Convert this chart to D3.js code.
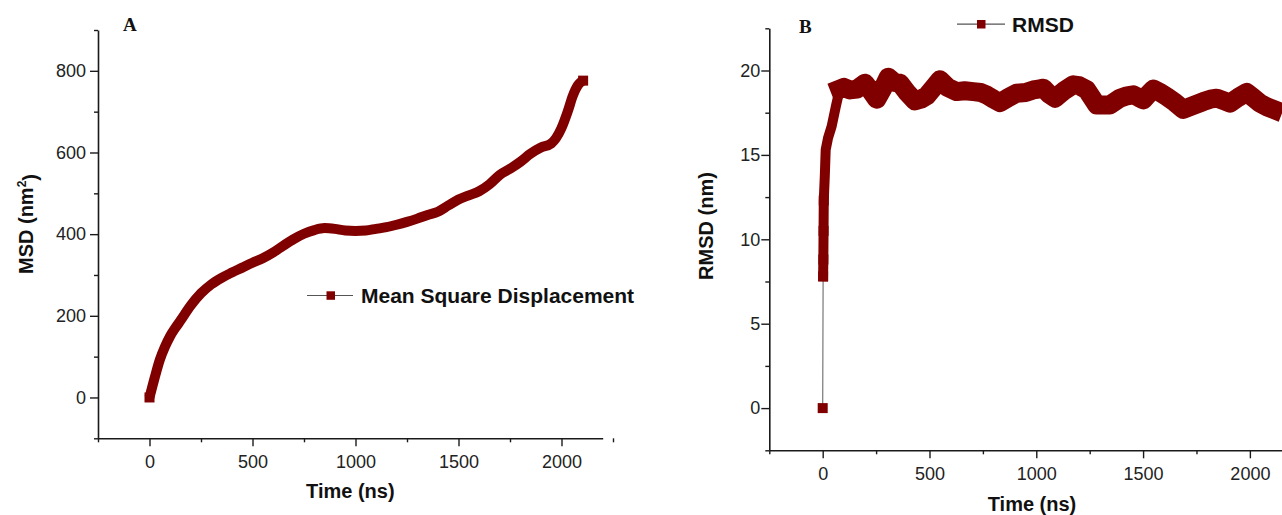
<!DOCTYPE html>
<html>
<head>
<meta charset="utf-8">
<script src="https://cdn.jsdelivr.net/npm/d3@7"></script>
<style>
  html, body { margin: 0; padding: 0; background: #fff; }
  svg { display: block; }
  text { font-family: "Liberation Sans", Arial, sans-serif; }
</style>
</head>
<body>
<svg id="chart" width="1282" height="515"></svg>
<script>
// ---------- Data ----------
// Panel A: Mean Square Displacement (nm^2) vs time (ns)
const msdTime = [0, 25, 50, 75, 100, 125, 150, 200, 250, 300, 350, 400, 450, 500, 550, 600, 650, 700, 750, 800, 850, 900, 950, 1000, 1050, 1100, 1150, 1200, 1250, 1300, 1350, 1400, 1450, 1500, 1550, 1600, 1650, 1700, 1750, 1800, 1850, 1900, 1950, 2000, 2030, 2055, 2080, 2095, 2105];
const msdValue = [0, 48, 92, 124, 150, 170, 188, 225, 255, 277, 293, 306, 318, 330, 341, 355, 372, 388, 401, 410, 415, 413, 409, 408, 409, 413, 417, 423, 430, 438, 447, 455, 470, 485, 495, 505, 522, 545, 560, 577, 597, 612, 622, 660, 700, 739, 765, 773, 776];

// Panel B: RMSD (nm) vs time (ns)
const rmsdTime = [0, 2, 3, 4, 5, 10, 14, 25, 42, 62, 80, 100, 128, 160, 198, 225, 253, 280, 307, 335, 362, 395, 432, 460, 487, 520, 549, 585, 627, 665, 705, 740, 768, 800, 830, 870, 908, 950, 986, 1010, 1033, 1060, 1088, 1130, 1173, 1200, 1236, 1260, 1283, 1315, 1345, 1392, 1425, 1454, 1480, 1501, 1525, 1548, 1580, 1610, 1650, 1688, 1730, 1782, 1815, 1845, 1880, 1907, 1945, 1985, 2015, 2047, 2080, 2110];
const rmsdValue = [0, 7.8, 8.8, 10.5, 12.3, 13.8, 15.3, 16.0, 16.7, 17.9, 18.9, 19.0, 18.85, 18.9, 19.25, 18.8, 18.3, 18.9, 19.6, 19.3, 19.25, 18.7, 18.2, 18.3, 18.5, 19.0, 19.45, 19.0, 18.75, 18.8, 18.75, 18.7, 18.55, 18.3, 18.1, 18.4, 18.65, 18.7, 18.85, 18.9, 18.95, 18.6, 18.36, 18.8, 19.15, 19.1, 18.86, 18.4, 17.96, 17.95, 17.96, 18.36, 18.5, 18.56, 18.4, 18.26, 18.6, 18.9, 18.7, 18.46, 18.1, 17.7, 17.9, 18.16, 18.3, 18.36, 18.2, 18.07, 18.4, 18.7, 18.4, 18.07, 17.85, 17.7];

// Ticks
const xMajorTicks = [0, 500, 1000, 1500, 2000];
const xMinorTicks = [-250, 250, 750, 1250, 1750, 2250];
const msdMajorTicks = [0, 200, 400, 600, 800];
const msdMinorTicks = [-100, 100, 300, 500, 700, 900];
const rmsdMajorTicks = [0, 5, 10, 15, 20];
const rmsdMinorTicks = [-2.5, 2.5, 7.5, 12.5, 17.5, 22.5];

// Labels
const panelLabels = ["A", "B"];
const xTitle = "Time (ns)";
const legendA = "Mean Square Displacement";
const legendB = "RMSD";

// ---------- Drawing ----------
const svg = d3.select("#chart");
const RED = "#800000";
const AXIS = "#1a1a1a";
const fmt = d3.format("d");

const msdData = msdTime.map((t, i) => ({ t, v: msdValue[i] }));
const rmsdData = rmsdTime.map((t, i) => ({ t, v: rmsdValue[i] }));

function drawAxes(g, x, y, xMaj, xMin, yMaj, yMin, yLabelPad) {
  const x0 = x.range()[0], y0 = y.range()[0];
  const xa = g.append("g").attr("transform", `translate(0,${y0})`)
    .call(d3.axisBottom(x).tickValues(xMaj).tickFormat(fmt).tickSize(8).tickSizeOuter(0).tickPadding(6));
  const xm = g.append("g").attr("transform", `translate(0,${y0})`)
    .call(d3.axisBottom(x).tickValues(xMin).tickSize(4).tickSizeOuter(0).tickFormat(""));
  xm.select(".domain").remove();
  const ya = g.append("g").attr("transform", `translate(${x0},0)`)
    .call(d3.axisLeft(y).tickValues(yMaj).tickFormat(fmt).tickSize(8).tickSizeOuter(0).tickPadding(yLabelPad));
  const ym = g.append("g").attr("transform", `translate(${x0},0)`)
    .call(d3.axisLeft(y).tickValues(yMin).tickSize(4).tickSizeOuter(0).tickFormat(""));
  ym.select(".domain").remove();
  g.selectAll(".domain").attr("stroke", AXIS).attr("stroke-width", 1.6);
  g.selectAll(".tick line").attr("stroke", AXIS).attr("stroke-width", 1.4);
  g.selectAll(".tick text").attr("fill", "#222").style("font-size", "18px")
    .style("font-family", '"Liberation Sans", Arial, sans-serif');
  xa.selectAll(".tick text").attr("dy", "0.9em");
}

// ---- Panel A ----
const xA = d3.scaleLinear().domain([-250, 2200]).range([98, 602.7]);
const yA = d3.scaleLinear().domain([-100, 900]).range([438.3, 30]);
const gA = svg.append("g");
drawAxes(gA, xA, yA, xMajorTicks, xMinorTicks, msdMajorTicks, msdMinorTicks, 4);

const lineA = d3.line().x(d => xA(d.t)).y(d => yA(d.v)).curve(d3.curveMonotoneX);
gA.append("path").datum(msdData).attr("d", lineA)
  .attr("fill", "none").attr("stroke", RED).attr("stroke-width", 10)
  .attr("stroke-linejoin", "round").attr("stroke-linecap", "butt");
const msdEnds = [msdData[0], msdData[msdData.length - 1]];
gA.selectAll("rect.mk").data(msdEnds).enter().append("rect")
  .attr("x", d => xA(d.t) - 5).attr("y", d => yA(d.v) - 5)
  .attr("width", 10).attr("height", 10).attr("fill", RED);

gA.append("text").attr("x", 123).attr("y", 30.5).text(panelLabels[0])
  .style("font-family", '"Liberation Serif", "Times New Roman", serif')
  .style("font-weight", "bold").style("font-size", "19px").attr("fill", "#111");

gA.append("text").attr("x", (xA.range()[0] + xA.range()[1]) / 2).attr("y", 498)
  .attr("text-anchor", "middle").style("font-weight", "bold").style("font-size", "20px")
  .attr("fill", "#111").text(xTitle);

const yTitleA = gA.append("text").attr("transform", "translate(33,224) rotate(-90)")
  .attr("text-anchor", "middle").style("font-weight", "bold").style("font-size", "20px")
  .attr("fill", "#111");
yTitleA.append("tspan").text("MSD (nm");
yTitleA.append("tspan").attr("dy", "-0.55em").style("font-size", "12px").text("2");
yTitleA.append("tspan").attr("dy", "0.55em").text(")");

// Legend A
const lgA = gA.append("g");
lgA.append("line").attr("x1", 307).attr("x2", 353).attr("y1", 295.5).attr("y2", 295.5)
  .attr("stroke", "#555").attr("stroke-width", 1.2);
lgA.append("rect").attr("x", 326.5).attr("y", 291.3).attr("width", 8.5).attr("height", 8.5).attr("fill", RED);
lgA.append("text").attr("x", 361).attr("y", 302.5).style("font-weight", "bold")
  .style("font-size", "21px").attr("fill", "#111").text(legendA);

// ---- Panel B ----
const xB = d3.scaleLinear().domain([-250, 2200]).range([769.3, 1292.6]);
const yB = d3.scaleLinear().domain([-2.5, 22.5]).range([450.3, 28.3]);
const gB = svg.append("g");
drawAxes(gB, xB, yB, xMajorTicks, xMinorTicks, rmsdMajorTicks, rmsdMinorTicks, 1);

const lineB = d3.line().x(d => xB(d.t)).y(d => yB(d.v));
// thin connecting line
gB.append("path").datum(rmsdData).attr("d", lineB)
  .attr("fill", "none").attr("stroke", "#777").attr("stroke-width", 1.2);
// dense-marker band: rising part (narrow) and plateau (wider, noisy)
const riseData = rmsdData.filter(d => d.t >= 2 && d.t <= 80);
const plateauData = rmsdData.filter(d => d.t >= 80);
gB.append("path").datum(riseData).attr("d", lineB)
  .attr("fill", "none").attr("stroke", RED).attr("stroke-width", 10)
  .attr("stroke-linejoin", "round").attr("stroke-linecap", "square");
gB.append("path").datum(plateauData).attr("d", lineB)
  .attr("fill", "none").attr("stroke", RED).attr("stroke-width", 19)
  .attr("stroke-linejoin", "round").attr("stroke-linecap", "square");
const rmsdMarks = rmsdData.filter(d => d.t <= 5);
gB.selectAll("rect.mk").data(rmsdMarks).enter().append("rect")
  .attr("x", d => xB(d.t) - 5).attr("y", d => yB(d.v) - 5)
  .attr("width", 10).attr("height", 10).attr("fill", RED);

gB.append("text").attr("x", 799).attr("y", 33).text(panelLabels[1])
  .style("font-family", '"Liberation Serif", "Times New Roman", serif')
  .style("font-weight", "bold").style("font-size", "19px").attr("fill", "#111");

gB.append("text").attr("x", 1032).attr("y", 511)
  .attr("text-anchor", "middle").style("font-weight", "bold").style("font-size", "20px")
  .attr("fill", "#111").text(xTitle);

gB.append("text").attr("transform", "translate(713,226) rotate(-90)")
  .attr("text-anchor", "middle").style("font-weight", "bold").style("font-size", "20px")
  .attr("fill", "#111").text("RMSD (nm)");

// Legend B
const lgB = gB.append("g");
lgB.append("line").attr("x1", 957).attr("x2", 1005).attr("y1", 24.2).attr("y2", 24.2)
  .attr("stroke", "#555").attr("stroke-width", 1.2);
lgB.append("rect").attr("x", 977).attr("y", 20).attr("width", 8.5).attr("height", 8.5).attr("fill", RED);
lgB.append("text").attr("x", 1012).attr("y", 31.5).style("font-weight", "bold")
  .style("font-size", "21px").attr("fill", "#111").text(legendB);
</script>
</body>
</html>
